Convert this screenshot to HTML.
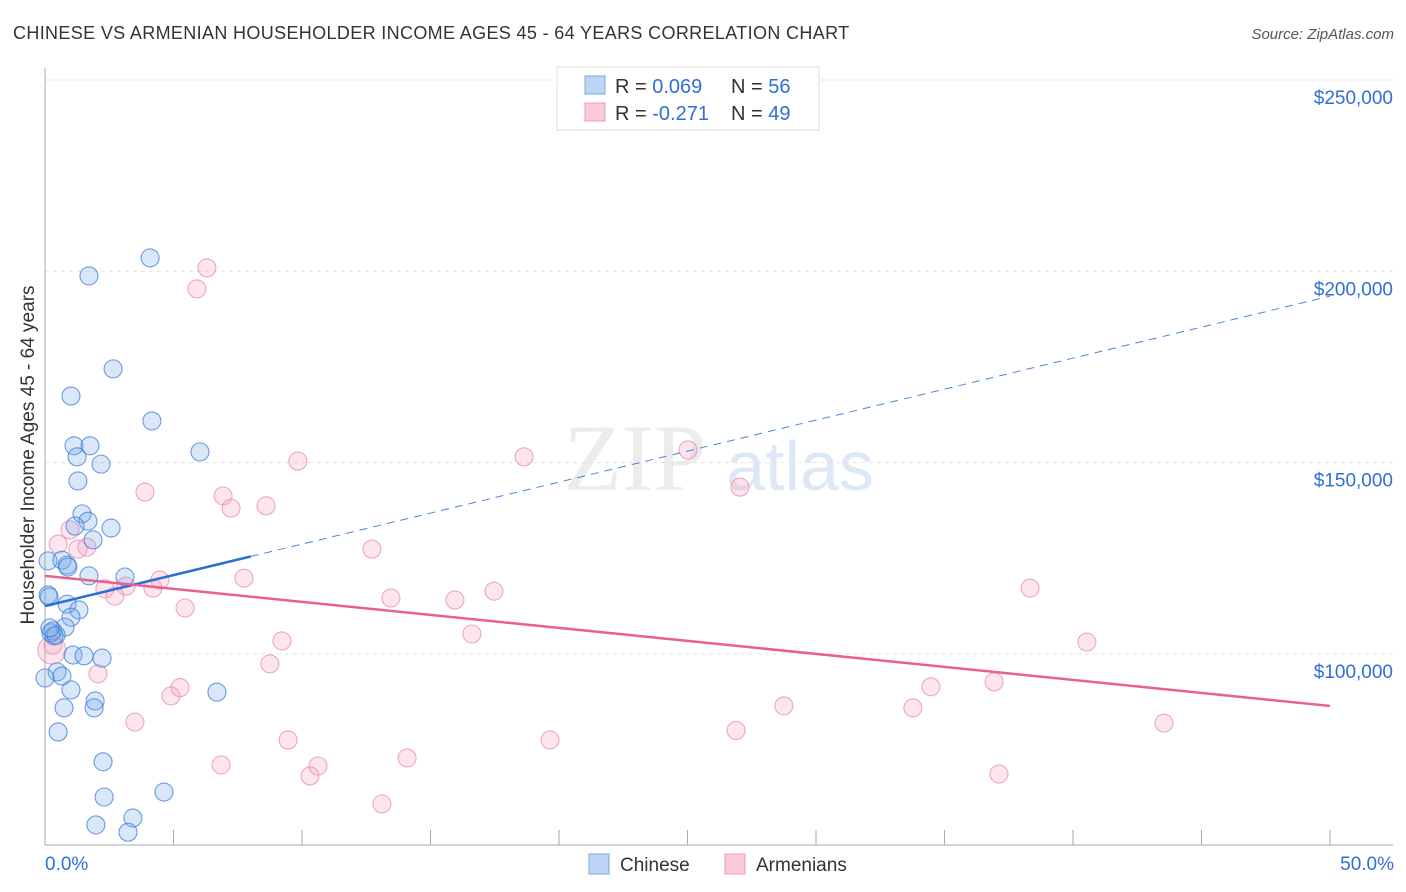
<!DOCTYPE html>
<html><head><meta charset="utf-8"><style>
body{margin:0;background:#fff;font-family:"Liberation Sans",sans-serif;}
svg{display:block}
</style></head><body>
<svg id="chart" width="1406" height="892">
<text x="13" y="39" font-size="18" fill="#333" letter-spacing="0.35">CHINESE VS ARMENIAN HOUSEHOLDER INCOME AGES 45 - 64 YEARS CORRELATION CHART</text>
<text x="1394" y="39" font-size="15" fill="#555" font-style="italic" text-anchor="end">Source: ZipAtlas.com</text>
<g>
<text x="635" y="490" font-size="95" fill="#ececec" font-family="Liberation Serif,serif" text-anchor="middle">ZIP</text>
<text x="800" y="490" font-size="70" fill="#dde8f6" text-anchor="middle">atlas</text>
</g>
<g id="grid"></g><g id="axes"></g><g id="pts"></g><g id="trends"></g>
<text transform="translate(34,455) rotate(-90)" font-size="19" fill="#333" text-anchor="middle">Householder Income Ages 45 - 64 years</text>
<g>
<rect x="557" y="67" width="262" height="63" fill="#fff" stroke="#ddd"/>
<rect x="585" y="76" width="20" height="18" fill="#bcd5f5" stroke="#7aa7e0"/>
<rect x="585" y="103" width="20" height="18" fill="#f9c9d8" stroke="#eb9ab6"/>
<text x="615" y="93" font-size="20" fill="#333">R = <tspan fill="#2f6fd6">0.069</tspan></text>
<text x="731" y="93" font-size="20" fill="#333">N = <tspan fill="#2f6fd6">56</tspan></text>
<text x="615" y="120" font-size="20" fill="#333">R = <tspan fill="#2f6fd6">-0.271</tspan></text>
<text x="731" y="120" font-size="20" fill="#333">N = <tspan fill="#2f6fd6">49</tspan></text>
</g>
<g>
<rect x="589" y="854" width="20" height="20" fill="#bcd5f5" stroke="#7aa7e0"/>
<text x="620" y="871" font-size="19" fill="#333">Chinese</text>
<rect x="725" y="854" width="20" height="20" fill="#f9c9d8" stroke="#eb9ab6"/>
<text x="756" y="871" font-size="19" fill="#333">Armenians</text>
</g>
</svg>
<script>
const yTicks=[100000,150000,200000,250000];
const yTickLabels=["$100,000","$150,000","$200,000","$250,000"];
const xTickLabels=["0.0%","50.0%"];
const chineseX=[4.09,1.71,2.65,1.01,4.16,1.13,1.75,1.25,6.03,2.18,1.28,1.44,1.67,1.17,2.57,1.87,0.12,0.66,0.86,0.89,1.71,3.11,0.12,0.16,0.86,1.32,1.01,0.78,0.31,0.35,0.23,0.43,1.09,1.52,2.22,0.47,0.66,0.0,1.01,1.95,1.91,6.69,0.74,0.51,2.26,2.30,4.63,1.98,3.42,3.23,0.19];
const chineseY=[203.5,198.8,174.5,167.4,160.9,154.4,154.4,151.5,152.8,149.6,145.2,136.6,134.7,133.4,132.9,129.8,124.3,124.5,123.2,122.7,120.4,120.1,115.4,114.9,113.0,111.5,109.6,107.0,106.0,104.7,105.5,104.9,99.7,99.5,98.9,95.3,94.2,93.7,90.6,87.7,85.9,90.0,85.9,79.6,71.8,62.6,63.9,55.3,57.1,53.4,106.8];
const armX=[6.30,5.91,9.84,18.64,25.02,27.04,3.89,6.93,7.24,8.60,0.97,0.51,1.63,1.28,12.72,7.74,4.47,4.20,2.33,3.15,2.72,38.33,13.46,15.95,17.47,5.45,16.61,9.22,40.54,0.31,8.75,2.06,5.25,4.90,34.47,36.93,28.75,33.77,3.50,26.89,43.54,9.46,19.65,6.85,10.62,14.09,10.31,37.12,13.11,0.27];
const armY=[200.9,195.4,150.4,151.5,153.3,143.6,142.3,141.3,138.1,138.7,132.4,128.7,127.9,127.4,127.4,119.8,119.3,117.2,117.0,117.7,115.1,117.2,114.6,114.1,116.4,112.0,105.2,103.4,103.1,102.3,97.4,94.8,91.2,89.0,91.4,92.7,86.4,85.9,82.2,80.0,81.9,77.5,77.5,71.0,70.7,72.8,68.1,68.6,60.8,101.0];
const chineseTrend=[112.5,193.5];
const armTrend=[120.4,86.4];
const chineseSolidEnd=8;
const NS="http://www.w3.org/2000/svg";
const X=p=>45+p*25.7;
const Y=v=>80+(250-v)*3.826;
function mk(t,a,parent){const e=document.createElementNS(NS,t);for(const k in a)e.setAttribute(k,a[k]);document.getElementById(parent).appendChild(e);return e;}
yTicks.forEach((t,i)=>{
 const g=mk('line',{x1:45,x2:1393,y1:Y(t/1000),y2:Y(t/1000),stroke:'#e2e2e2','stroke-dasharray':'4,4'},'grid');
 
 
 const l=mk('text',{x:1393,y:Y(t/1000)+24,'font-size':19,fill:'#2f6fd6','text-anchor':'end'},'grid');
 l.textContent=yTickLabels[i];
 
 
});
let ax=mk('line',{x1:45,x2:45,y1:68,y2:845,stroke:'#aaa'},'axes');


ax=mk('line',{x1:45,x2:1393,y1:845,y2:845,stroke:'#aaa'},'axes');


for(let i=0;i<=10;i++){const t=mk('line',{x1:X(i*5),x2:X(i*5),y1:830,y2:845,stroke:'#aaa'},'axes');
 
 }
[[0,'start',45],[50,'end',1394]].forEach((d,i)=>{const t=mk('text',{x:d[2],y:870,'font-size':19,fill:'#2f6fd6','text-anchor':d[1]},'axes');t.textContent=xTickLabels[i];
 
 });
armX.forEach((x,i)=>{const c=mk('circle',{cx:X(x),cy:Y(armY[i]),r:i==armX.length-1?14:9,fill:'rgba(244,160,190,0.28)',stroke:'rgba(232,140,172,0.75)','stroke-width':1.1},'pts');
 
 });
chineseX.forEach((x,i)=>{const c=mk('circle',{cx:X(x),cy:Y(chineseY[i]),r:9,fill:'rgba(120,170,235,0.28)',stroke:'rgba(60,125,215,0.75)','stroke-width':1.1},'pts');
 
 });
const cy=p=>chineseTrend[0]+(chineseTrend[1]-chineseTrend[0])*p/50;
let l=mk('line',{x1:X(0),y1:Y(cy(0)),x2:X(chineseSolidEnd),y2:Y(cy(chineseSolidEnd)),stroke:'#2a6fd6','stroke-width':2.5},'trends');


l=mk('line',{x1:X(chineseSolidEnd),y1:Y(cy(chineseSolidEnd)),x2:X(50),y2:Y(cy(50)),stroke:'#4a86dc','stroke-width':1,'stroke-dasharray':'8,6'},'trends');


l=mk('line',{x1:X(0),y1:Y(armTrend[0]),x2:X(50),y2:Y(armTrend[1]),stroke:'#e8608e','stroke-width':2.5},'trends');


</script>
</body></html>
